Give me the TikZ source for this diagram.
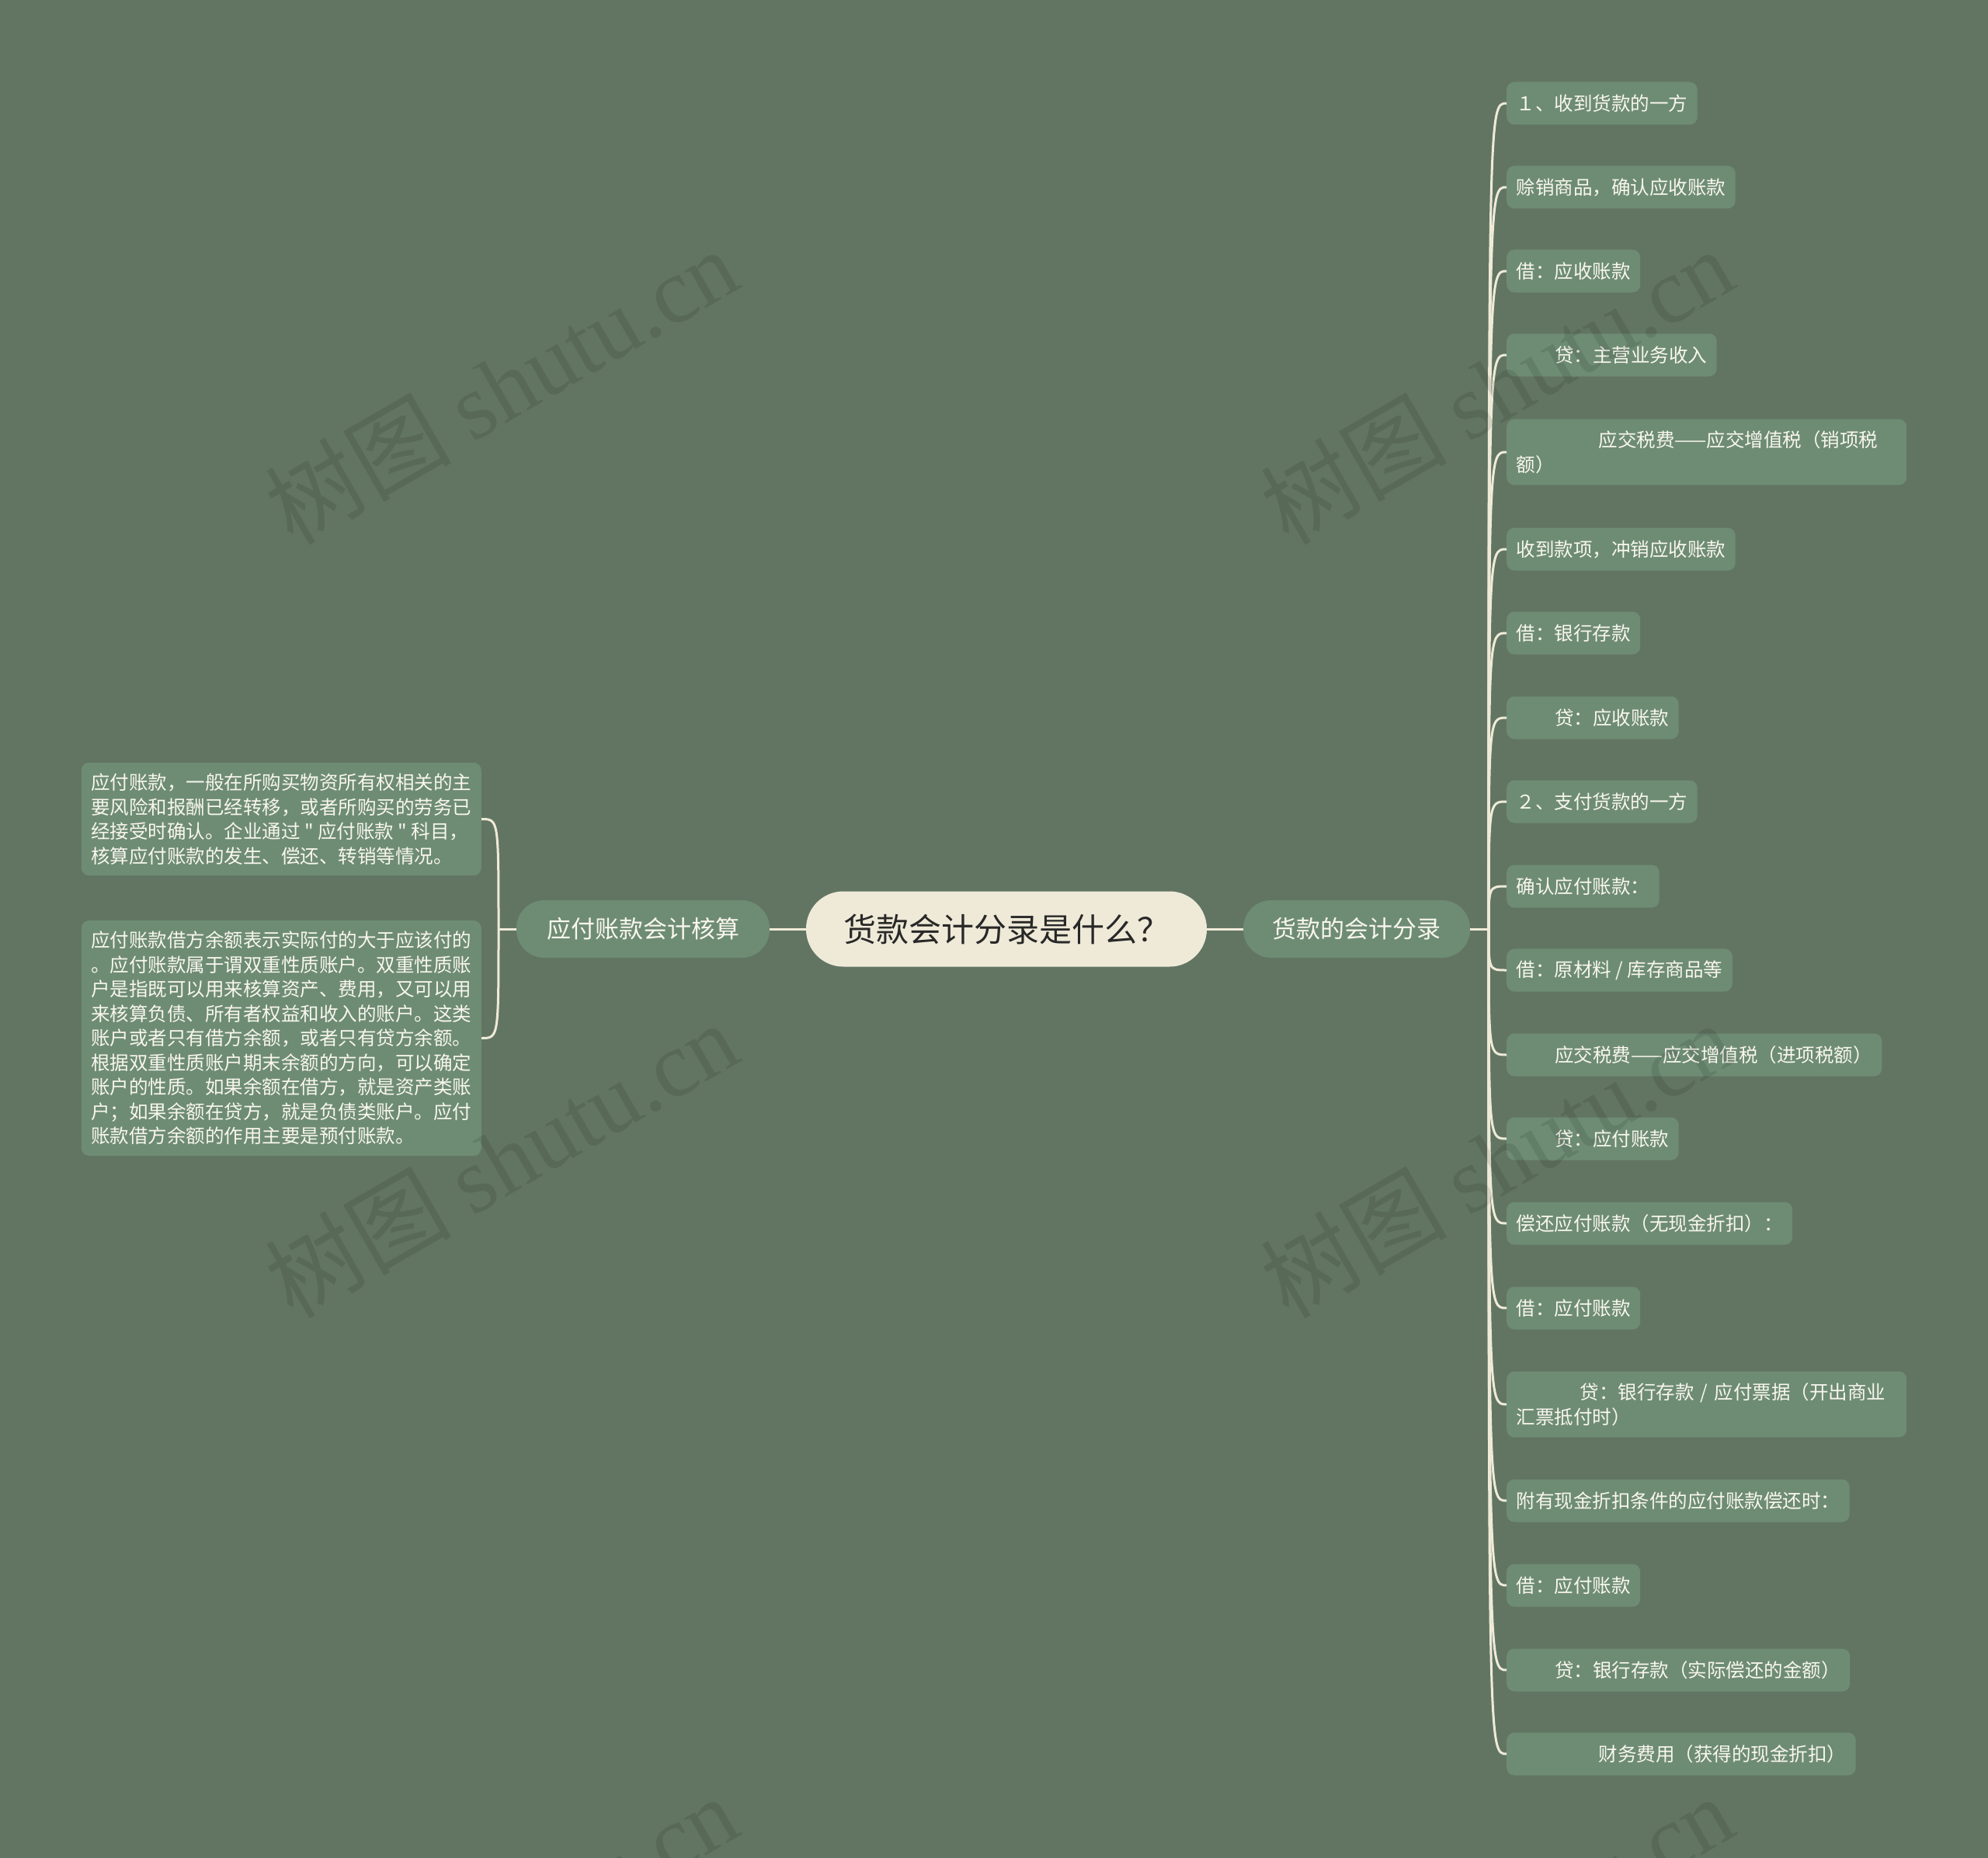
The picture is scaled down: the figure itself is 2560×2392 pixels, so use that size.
\documentclass[tikz,border=0pt]{standalone}
\usepackage{fontspec}
\setmainfont{Noto Sans CJK SC}
\newfontfamily\plainf{Noto Sans CJK SC}
\newfontfamily\wmserif{Liberation Serif}
\definecolor{bgc}{RGB}{98,117,99}
\definecolor{nodefill}{RGB}{110,140,116}
\definecolor{cream}{RGB}{239,234,216}
\definecolor{roottext}{RGB}{40,40,40}
\definecolor{leaftext}{RGB}{248,246,238}
\newcommand{\sq}{{\plainf "}}
\begin{document}
\begin{tikzpicture}[x=1pt,y=-1pt,
  leaf/.style={fill=nodefill, rounded corners=10pt, anchor=west, inner xsep=12.5pt, inner ysep=15pt,
    minimum height=55pt, align=left, font=\fontsize{24.5}{31.5}\selectfont, text=leaftext},
  note/.style={leaf, anchor=east, inner ysep=14pt},
  midnode/.style={fill=nodefill, rounded corners=36pt, minimum height=74pt, inner sep=0pt,
    font=\fontsize{31}{36}\selectfont, text=leaftext},
  rootnode/.style={fill=cream, rounded corners=48pt, minimum height=97pt, minimum width=516pt, inner sep=0pt,
    font=\fontsize{42}{48}\selectfont, text=roottext},
  conn/.style={draw=cream, line width=3pt},
  wm/.style={anchor=base, rotate=30, text=black, text opacity=0.1, inner sep=0pt,
    font=\fontsize{120}{125}\selectfont}
]
\useasboundingbox (0,0) rectangle (2560,2392);
\fill[bgc] (0,0) rectangle (2560,2392);

% central and main nodes
\node[rootnode] (root) at (1296,1196) {货款会计分录是什么？};
\node[midnode, minimum width=326pt] (lm) at (828,1196) {应付账款会计核算};
\node[midnode, minimum width=292pt] (rm) at (1747,1196) {货款的会计分录};

\coordinate (jR) at (1917,1196);
\coordinate (jL) at (642,1196);

% right leaves
\node[leaf] (r1) at (1940,133) {１、收到货款的一方};
\node[leaf] (r2) at (1940,241) {赊销商品，确认应收账款};
\node[leaf] (r3) at (1940,349) {借：应收账款};
\node[leaf] (r4) at (1940,457) {\hspace*{49.5pt}贷：主营业务收入};
\node[leaf, text width=490pt] (r5) at (1940,582) {\hspace*{106pt}应交税费——应交增值税（销项税\\额）};
\node[leaf] (r6) at (1940,707) {收到款项，冲销应收账款};
\node[leaf] (r7) at (1940,815) {借：银行存款};
\node[leaf] (r8) at (1940,924) {\hspace*{49.5pt}贷：应收账款};
\node[leaf] (r9) at (1940,1032) {２、支付货款的一方};
\node[leaf] (r10) at (1940,1141) {确认应付账款：};
\node[leaf] (r11) at (1940,1249) {借：原材料 / 库存商品等};
\node[leaf] (r12) at (1940,1358) {\hspace*{49.5pt}应交税费——应交增值税（进项税额）};
\node[leaf] (r13) at (1940,1466) {\hspace*{49.5pt}贷：应付账款};
\node[leaf] (r14) at (1940,1575) {偿还应付账款（无现金折扣）：};
\node[leaf] (r15) at (1940,1684) {借：应付账款};
\node[leaf, text width=490pt] (r16) at (1940,1808) {\hspace*{82pt}贷：银行存款 / 应付票据（开出商业\\汇票抵付时）};
\node[leaf] (r17) at (1940,1932) {附有现金折扣条件的应付账款偿还时：};
\node[leaf] (r18) at (1940,2041) {借：应付账款};
\node[leaf] (r19) at (1940,2150) {\hspace*{49.5pt}贷：银行存款（实际偿还的金额）};
\node[leaf] (r20) at (1940,2258) {\hspace*{106pt}财务费用（获得的现金折扣）};

% left notes
\node[note] (l1) at (620,1054.5) {应付账款，一般在所购买物资所有权相关的主\\要风险和报酬已经转移，或者所购买的劳务已\\经接受时确认。企业通过 \sq{} 应付账款 \sq{} 科目，\\核算应付账款的发生、偿还、转销等情况。};
\node[note] (l2) at (620,1336.5) {应付账款借方余额表示实际付的大于应该付的\\。应付账款属于谓双重性质账户。双重性质账\\户是指既可以用来核算资产、费用，又可以用\\来核算负债、所有者权益和收入的账户。这类\\账户或者只有借方余额，或者只有贷方余额。\\根据双重性质账户期末余额的方向，可以确定\\账户的性质。如果余额在借方，就是资产类账\\户；如果余额在贷方，就是负债类账户。应付\\账款借方余额的作用主要是预付账款。};

% connectors
\draw[conn] (root.west) -- (lm.east);
\draw[conn] (root.east) -- (rm.west);
\draw[conn] (rm.east) -- (jR);
\draw[conn] (lm.west) -- (jL);
\foreach \n in {r1,r2,r3,r4,r5,r6,r7,r8,r9,r10,r11,r12,r13,r14,r15,r16,r17,r18,r19,r20}
  \draw[conn] (jR) .. controls (jR |- \n.west) and (jR |- \n.west) .. (\n.west);
\foreach \n in {l1,l2}
  \draw[conn] (jL) .. controls (jL |- \n.east) and (jL |- \n.east) .. (\n.east);

% watermarks
\begin{scope}
\clip (0,0) rectangle (2560,2392);
\node[wm] (wm1) at (668,536) {树图 {\wmserif shutu.cn}};
\node[wm] (wm2) at (1950,536) {树图 {\wmserif shutu.cn}};
\node[wm] (wm3) at (668,1532) {树图 {\wmserif shutu.cn}};
\node[wm] (wm4) at (1950,1532) {树图 {\wmserif shutu.cn}};
\node[wm] (wm5) at (668,2528) {树图 {\wmserif shutu.cn}};
\node[wm] (wm6) at (1950,2528) {树图 {\wmserif shutu.cn}};
\end{scope}
\end{tikzpicture}
\end{document}
